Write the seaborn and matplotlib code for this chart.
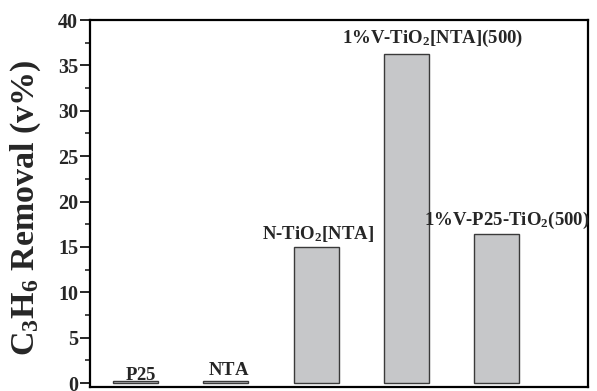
import matplotlib
matplotlib.use("Agg")
import matplotlib.pyplot as plt
import seaborn as sns
import pandas as pd
from matplotlib.ticker import MultipleLocator

# Samples and their propylene removal
samples = ["P25", "NTA", "N-TiO2[NTA]", "1%V-TiO2[NTA](500)", "1%V-P25-TiO2(500)"]
removal = [0.2, 0.2, 15.0, 36.3, 16.4]
bar_labels = [r"$\mathrm{P25}$", r"$\mathrm{NTA}$", r"$\mathrm{N\text{-}TiO_2[NTA]}$",
              r"$\mathrm{1\%V\text{-}TiO_2[NTA](500)}$", r"$\mathrm{1\%V\text{-}P25\text{-}TiO_2(500)}$"]
yticks = [0, 5, 10, 15, 20, 25, 30, 35, 40]

sns.set_style("ticks")
plt.rcParams["font.family"] = ["Liberation Serif", "DejaVu Serif"]
plt.rcParams["font.weight"] = "bold"
plt.rcParams["mathtext.fontset"] = "custom"
plt.rcParams["mathtext.rm"] = "Liberation Serif:bold"
plt.rcParams["mathtext.it"] = "Liberation Serif:bold"
plt.rcParams["mathtext.bf"] = "Liberation Serif:bold"

df = pd.DataFrame({"sample": samples, "removal": removal})

fig = plt.figure(figsize=(5.97, 3.91), dpi=100)
ax = fig.add_axes([90 / 597, 4 / 391, 498 / 597, 367 / 391])

sns.barplot(data=df, x="sample", y="removal", ax=ax, color="#c6c7c9",
            saturation=1, width=0.5, edgecolor="#3a3a3a", linewidth=1.0)

ax.set_xlim(-0.505, 5.01)
ax.set_ylim(-0.44, 40)
ax.set_yticks(yticks)
ax.yaxis.set_minor_locator(MultipleLocator(2.5))
ax.set_xticks([])
ax.set_xlabel("")
ax.set_ylabel(r"$\mathrm{C_3H_6}$ Removal (v%)", fontsize=24.5, fontweight="bold")
ax.yaxis.set_label_coords(-0.095, 0.488)

for side in ["left", "right", "top", "bottom"]:
    ax.spines[side].set_visible(True)
    ax.spines[side].set_linewidth(1.6)
    ax.spines[side].set_color("black")

ax.tick_params(axis="y", which="major", direction="out", length=7, width=1.4,
               labelsize=14.5, pad=1.5)
ax.tick_params(axis="y", which="minor", direction="out", length=3.5, width=1.2)
for lbl in ax.get_yticklabels():
    lbl.set_fontweight("bold")

# Sample names above the bars
offsets = [(5, 1), (3, 6), (2, 8), (26, 11), (10, 9)]
for i, (val, text) in enumerate(zip(removal, bar_labels)):
    dx, dy = offsets[i]
    ax.annotate(text, xy=(i, val), xytext=(dx, dy), textcoords="offset pixels",
                ha="center", va="baseline", fontsize=13.5, annotation_clip=False)

fig.savefig("out.png", dpi=100)
